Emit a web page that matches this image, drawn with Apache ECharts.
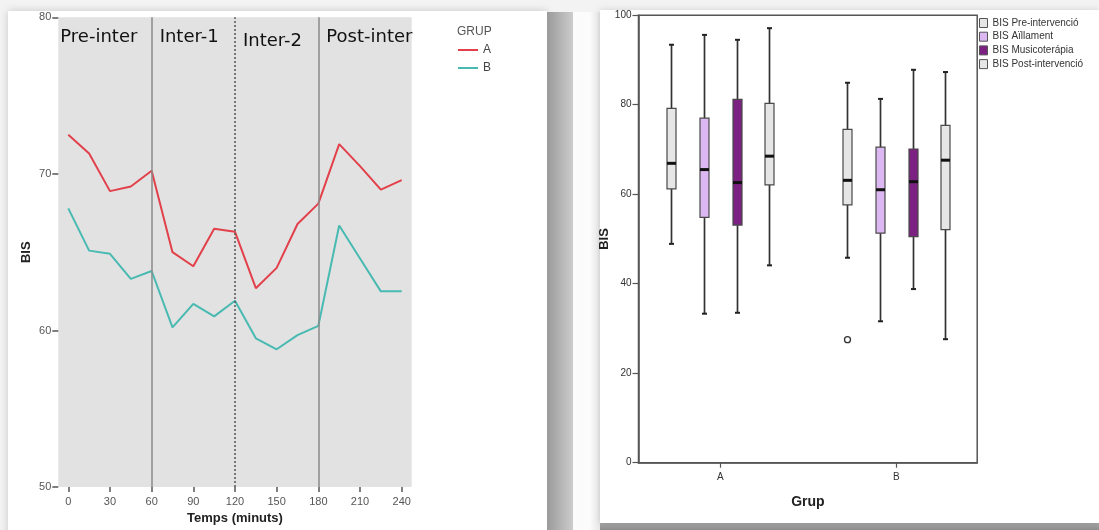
<!DOCTYPE html>
<html>
<head>
<meta charset="utf-8">
<script src="https://cdn.jsdelivr.net/npm/echarts@6/dist/echarts.min.js"></script>
<style>html,body{margin:0;padding:0;background:#f3f3f3}#c{width:1099px;height:530px}</style>
</head>
<body>
<div id="c"></div>
<script>
// ---------- Left chart data (BIS over time) ----------
const minutes = [0, 15, 30, 45, 60, 75, 90, 105, 120, 135, 150, 165, 180, 195, 210, 225, 240];
const bisA = [72.5, 71.3, 68.9, 69.2, 70.2, 65.0, 64.1, 66.5, 66.3, 62.7, 64.0, 66.8, 68.1, 71.9, 70.5, 69.0, 69.6];
const bisB = [67.8, 65.1, 64.9, 63.3, 63.8, 60.2, 61.7, 60.9, 61.9, 59.5, 58.8, 59.7, 60.3, 66.7, 64.6, 62.5, 62.5];
const timeTicks = [0, 30, 60, 90, 120, 150, 180, 210, 240];
const phaseNames = ['Pre-inter', 'Inter-1', 'Inter-2', 'Post-inter'];
const phaseBounds = [-7.2, 60, 120, 180, 247.2];
const groupNames = ['A', 'B'];

// ---------- Right chart data (boxplots by group) ----------
const grups = ['A', 'B'];
const grupPos = [0, 1];
const boxNames = ['BIS Pre-intervenció', 'BIS Aïllament', 'BIS Musicoterápia', 'BIS Post-intervenció'];
// [min, Q1, median, Q3, max] for A, B
const boxPre   = [[48.9, 61.2, 66.9, 79.2, 93.4], [45.8, 57.6, 63.1, 74.5, 84.9]];
const boxAill  = [[33.3, 54.8, 65.5, 77.0, 95.6], [31.6, 51.3, 61.0, 70.5, 81.3]];
const boxMusic = [[33.5, 53.1, 62.6, 81.2, 94.5], [38.8, 50.5, 62.8, 70.1, 87.8]];
const boxPost  = [[44.1, 62.1, 68.5, 80.3, 97.1], [27.6, 52.1, 67.6, 75.4, 87.3]];
// outliers: [group index, value] (BIS Pre-intervenció)
const outliersPre = [[1, 27.5]];

const boxSets = [boxPre, boxAill, boxMusic, boxPost];
const boxFills = ['#e6e6e6', '#dcb8f2', '#7c2182', '#e6e6e6'];

const chart = echarts.init(document.getElementById('c'), null, {renderer: 'canvas'});

const SPACING = 0.186;
function boxRender(k, fill) {
  return function (params, api) {
    const cat = api.value(0);
    const band = api.size([1, 0])[0];
    const dx = (k - 1.5) * band * SPACING;
    const w = 9;
    const p = v => { const c = api.coord([cat, v]); return [c[0] + dx, c[1]]; };
    const pMin = p(api.value(1)), pQ1 = p(api.value(2)), pMed = p(api.value(3)), pQ3 = p(api.value(4)), pMax = p(api.value(5));
    const x = Math.round(pMin[0]) + 0.5;
    const wl = {stroke: '#333', lineWidth: 1.7};
    return {
      type: 'group',
      children: [
        {type: 'line', shape: {x1: x, y1: pMax[1], x2: x, y2: pQ3[1]}, style: wl},
        {type: 'line', shape: {x1: x, y1: pQ1[1], x2: x, y2: pMin[1]}, style: wl},
        {type: 'line', shape: {x1: x - 2.5, y1: pMax[1], x2: x + 2.5, y2: pMax[1]}, style: {stroke: '#222', lineWidth: 2}},
        {type: 'line', shape: {x1: x - 2.5, y1: pMin[1], x2: x + 2.5, y2: pMin[1]}, style: {stroke: '#222', lineWidth: 2}},
        {type: 'rect', shape: {x: x - w / 2, y: pQ3[1], width: w, height: pQ1[1] - pQ3[1]}, style: {fill: fill, stroke: '#4a4a4a', lineWidth: 1.2}},
        {type: 'line', shape: {x1: x - w / 2, y1: pMed[1], x2: x + w / 2, y2: pMed[1]}, style: {stroke: '#111', lineWidth: 3}}
      ]
    };
  };
}
function outlierRender(k) {
  return function (params, api) {
    const band = api.size([1, 0])[0];
    const dx = (k - 1.5) * band * SPACING;
    const c = api.coord([api.value(0), api.value(1)]);
    return {type: 'circle', shape: {cx: Math.round(c[0] + dx) + 0.5, cy: c[1], r: 3}, style: {fill: '#fff', stroke: '#333', lineWidth: 1.3}};
  };
}

const boxSeries = boxSets.map((set, k) => ({
  name: boxNames[k],
  type: 'custom',
  xAxisIndex: 1, yAxisIndex: 1,
  itemStyle: {color: boxFills[k]},
  encode: {x: 0, y: [1, 2, 3, 4, 5]},
  data: set.map((v, i) => [grupPos[i]].concat(v)),
  renderItem: boxRender(k, boxFills[k]),
  silent: true
}));
boxSeries.push({
  name: 'outliers',
  type: 'custom',
  xAxisIndex: 1, yAxisIndex: 1,
  encode: {x: 0, y: 1},
  data: outliersPre,
  renderItem: outlierRender(0),
  silent: true
});

const tickFontL = {color: '#555', fontSize: 11, fontFamily: 'Liberation Sans Narrow, Liberation Sans, Arial'};
const tickFontR = {color: '#333', fontSize: 10, fontFamily: 'Liberation Sans Narrow, Liberation Sans, Arial'};

const option = {
  backgroundColor: '#f3f3f3',
  animation: false,
  graphic: {
    elements: [
      {type: 'rect', z: -100, silent: true, shape: {x: 8, y: 11, width: 539, height: 525}, style: {fill: '#fff', shadowBlur: 8, shadowColor: 'rgba(0,0,0,0.18)'}},
      {type: 'rect', z: -99, silent: true, shape: {x: 547, y: 12, width: 26, height: 520},
        style: {fill: new echarts.graphic.LinearGradient(0, 0, 1, 0, [{offset: 0, color: '#9a9a9a'}, {offset: 1, color: '#cccccc'}])}},
      {type: 'rect', z: -99, silent: true, shape: {x: 573, y: 12, width: 27, height: 520},
        style: {fill: new echarts.graphic.LinearGradient(0, 0, 1, 0, [{offset: 0, color: '#fbfbfb'}, {offset: 0.6, color: '#fcfcfc'}, {offset: 1, color: '#e8e8e8'}])}},
      {type: 'rect', z: -98, silent: true, shape: {x: 600, y: 523, width: 499, height: 7},
        style: {fill: new echarts.graphic.LinearGradient(0, 0, 0, 1, [{offset: 0, color: '#a8a8a8'}, {offset: 1, color: '#8e8e8e'}])}},
      {type: 'rect', z: -97, silent: true, shape: {x: 600, y: 10, width: 499, height: 513}, style: {fill: '#fff', shadowBlur: 6, shadowColor: 'rgba(0,0,0,0.15)'}}
    ]
  },
  title: {
    text: 'GRUP', left: 457, top: 26, padding: 0,
    textStyle: {fontSize: 12, fontWeight: 'normal', color: '#555', fontFamily: 'Liberation Sans Narrow, Liberation Sans, Arial'}
  },
  legend: [
    {
      data: groupNames, orient: 'vertical', left: 458, top: 43, padding: 0,
      icon: 'rect', itemWidth: 20, itemHeight: 2, itemGap: 4,
      textStyle: {fontSize: 12, lineHeight: 14, color: '#444', fontFamily: 'Liberation Sans Narrow, Liberation Sans, Arial'},
      selectedMode: false
    },
    {
      data: boxNames.map((n, k) => ({name: n, itemStyle: {color: boxFills[k], borderColor: '#555', borderWidth: 1}})),
      orient: 'vertical', left: 979, top: 17.5, padding: 0,
      icon: 'rect', itemWidth: 8, itemHeight: 9, itemGap: 2.7,
      textStyle: {fontSize: 10, lineHeight: 11, color: '#333', fontFamily: 'Liberation Sans Narrow, Liberation Sans, Arial'},
      selectedMode: false
    }
  ],
  grid: [
    {left: 58.3, top: 17.3, width: 353.4, height: 470.4, show: true, backgroundColor: '#e2e2e2', borderWidth: 0},
    {left: 638.5, top: 15.2, width: 338.7, height: 447.5, show: true, backgroundColor: 'transparent', borderColor: '#555', borderWidth: 1.5}
  ],
  xAxis: [
    {
      gridIndex: 0, type: 'value', min: phaseBounds[0], max: phaseBounds[phaseBounds.length - 1],
      axisLine: {show: false, onZero: false},
      axisTick: {show: true, customValues: timeTicks, length: 5, lineStyle: {color: '#555', width: 1.5}},
      axisLabel: {show: true, customValues: timeTicks, margin: 9, ...tickFontL},
      splitLine: {show: false},
      name: 'Temps (minuts)', nameLocation: 'middle', nameGap: 23,
      nameTextStyle: {fontSize: 13, fontWeight: 'bold', color: '#222', fontFamily: 'Liberation Sans, Arial'}
    },
    {
      gridIndex: 1, type: 'value', min: -0.465, max: 1.46,
      axisLine: {show: true, onZero: false, lineStyle: {color: '#555', width: 1.5}},
      axisTick: {show: true, customValues: grupPos, length: 5, lineStyle: {color: '#555', width: 1.2}},
      axisLabel: {customValues: grupPos, formatter: v => grups[Math.round(v)], margin: 10, ...tickFontR},
      splitLine: {show: false},
      name: 'Grup', nameLocation: 'middle', nameGap: 32,
      nameTextStyle: {fontSize: 14, fontWeight: 'bold', color: '#222', fontFamily: 'Liberation Sans, Arial'}
    }
  ],
  yAxis: [
    {
      gridIndex: 0, type: 'value', min: 50, max: 80, interval: 10,
      axisLine: {show: false, onZero: false},
      axisTick: {show: true, length: 6, lineStyle: {color: '#555', width: 1.5}},
      axisLabel: {margin: 7, ...tickFontL},
      splitLine: {show: false},
      name: 'BIS', nameLocation: 'middle', nameGap: 25,
      nameTextStyle: {fontSize: 13, fontWeight: 'bold', color: '#222', fontFamily: 'Liberation Sans, Arial'}
    },
    {
      gridIndex: 1, type: 'value', min: 0, max: 100, interval: 20,
      axisLine: {show: true, onZero: false, lineStyle: {color: '#555', width: 1.5}},
      axisTick: {show: true, length: 6, lineStyle: {color: '#555', width: 1.2}},
      axisLabel: {margin: 7, ...tickFontR},
      splitLine: {show: false},
      name: 'BIS', nameLocation: 'middle', nameGap: 21,
      nameTextStyle: {fontSize: 13, fontWeight: 'bold', color: '#222', fontFamily: 'Liberation Sans, Arial'}
    }
  ],
  series: [
    {
      name: groupNames[0], type: 'line', xAxisIndex: 0, yAxisIndex: 0,
      data: minutes.map((m, i) => [m, bisA[i]]),
      showSymbol: false, symbol: 'none', color: '#e2404a',
      lineStyle: {width: 2, color: '#e2404a'},
      markLine: {
        silent: true, symbol: 'none', label: {show: false},
        data: [
          {xAxis: phaseBounds[1], lineStyle: {type: 'solid', color: '#8a8a8a', width: 1.5}},
          {xAxis: phaseBounds[2], lineStyle: {type: [2, 2], color: '#555', width: 1.5}},
          {xAxis: phaseBounds[3], lineStyle: {type: 'solid', color: '#8a8a8a', width: 1.5}}
        ]
      },
      markArea: {
        silent: true,
        itemStyle: {color: 'rgba(0,0,0,0)'},
        label: {show: true, position: 'insideTopLeft', distance: 8, color: '#111', fontSize: 18, fontFamily: 'DejaVu Sans'},
        data: phaseNames.map((n, i) => [
          {name: n, xAxis: phaseBounds[i], label: {offset: [i === 0 ? -6 : 0, i === 2 ? 7 : 3]}},
          {xAxis: phaseBounds[i + 1]}
        ])
      }
    },
    {
      name: groupNames[1], type: 'line', xAxisIndex: 0, yAxisIndex: 0,
      data: minutes.map((m, i) => [m, bisB[i]]),
      showSymbol: false, symbol: 'none', color: '#48bab2',
      lineStyle: {width: 2, color: '#48bab2'}
    }
  ].concat(boxSeries)
};
chart.setOption(option);
</script>
</body>
</html>
